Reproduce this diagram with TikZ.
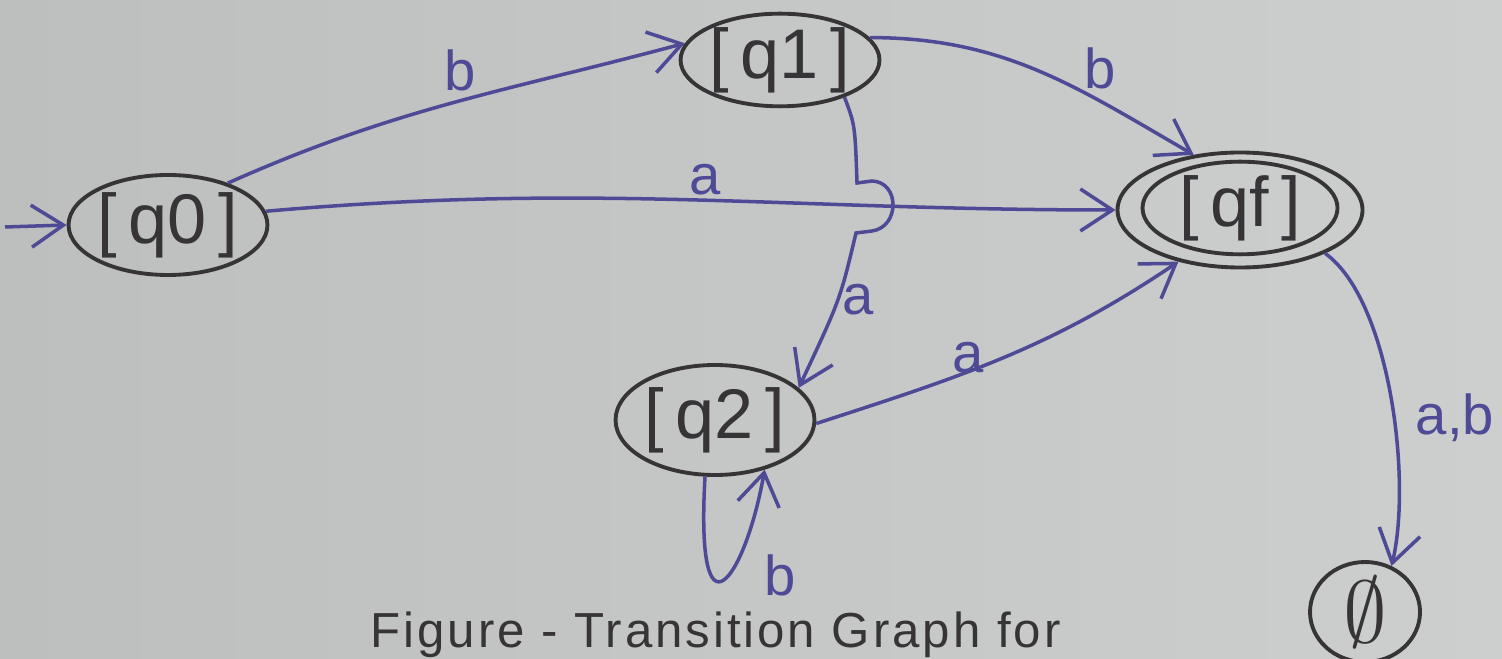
\documentclass[tikz,border=0pt]{standalone}
\usepackage{fontspec}
\setmainfont{Liberation Sans}
\usetikzlibrary{shapes.geometric,arrows.meta}
\definecolor{paperL}{RGB}{188,191,190}
\definecolor{paperR}{RGB}{204,207,206}
\definecolor{stateink}{RGB}{55,52,55}
\definecolor{edgeink}{RGB}{78,74,150}
\tikzset{
  st/.style={ellipse, draw=stateink, line width=1.1pt, inner sep=0pt, text=stateink,
             font=\fontsize{20}{22}\selectfont},
  e/.style={draw=edgeink, line width=1pt, -{Straight Barb[length=3.2mm,width=4.2mm]}},
  lbl/.style={text=edgeink, font=\fontsize{16}{18}\selectfont, inner sep=0pt},
}
\begin{document}
\begin{tikzpicture}
\useasboundingbox (0,0) rectangle (15.02,-6.59);
\clip (0,0) rectangle (15.02,-6.59);
\shade[left color=paperL, right color=paperR] (0,0) rectangle (15.02,-6.59);

% states
\node[st, minimum width=1.70cm, minimum height=1.00cm] (q0) at (1.68,-2.25) {[\,q0\,]};
\node[st, minimum width=1.95cm, minimum height=0.85cm] (q1) at (7.80,-0.60) {[\,q1\,]};
\node[st, minimum width=2.45cm, minimum height=1.15cm] (qf) at (12.40,-2.10) {};
\node[st, minimum width=1.95cm, minimum height=0.85cm] (qfin) at (12.40,-2.08) {[\,qf\,]};
\node[st, minimum width=1.95cm, minimum height=1.10cm] (q2) at (7.15,-4.20) {[\,q2\,]};
\node[st, minimum width=1.10cm, minimum height=1.00cm, font=\fontsize{26}{28}\selectfont] (phi) at (13.65,-6.12) {$\emptyset$};

% start arrow
\coordinate (s) at (0.05,-2.27);
\draw[e] (s) -- (q0.west);

% q0 -> q1 : b
\draw[e] (q0.35) to[out=24,in=195] (q1.170);
\node[lbl] (lb1) at (4.60,-0.70) {b};

% q0 -> qf : a
\draw[e] (q0.8) to[out=5,in=180] (qf.west);
\node[lbl] (la1) at (7.05,-1.80) {a};

% q1 -> qf : b
\draw[e] (q1.14) to[out=0,in=150] (qf.130);
\node[lbl] (lb2) at (11.00,-0.68) {b};

% q1 -> q2 : a  (hops over q0 -> qf)
\draw[e] (q1.-30) .. controls (8.55,-1.25) .. (8.57,-1.83) -- (8.72,-1.81)
  .. controls (9.00,-1.82) and (9.00,-2.27) .. (8.72,-2.31) -- (8.56,-2.33)
  .. controls (8.40,-3.00) .. (q2.21);
\node[lbl] (la2) at (8.58,-3.00) {a};

% q2 -> qf : a
\draw[e] (q2.-2) to[out=18,in=214] (qf.220);
\node[lbl] (la3) at (9.68,-3.58) {a};

% q2 self loop : b
\draw[e] (q2.-100) .. controls (6.95,-6.5) and (7.45,-5.8) .. (q2.-45);
\node[lbl] (lb3) at (7.80,-5.75) {b};

% qf -> phi : a,b
\draw[e] (qf.-27) .. controls (13.90,-3.00) and (14.12,-4.80) .. (phi.60);
\node[lbl] (lab) at (14.55,-4.18) {a,b};

% caption (at the bottom edge)
\node[anchor=base west, text=stateink, font=\fontsize{14}{16}\selectfont\addfontfeature{LetterSpace=6}, inner sep=0pt]
  (cap) at (3.70,-6.47) {Figure - Transition Graph for};
\end{tikzpicture}
\end{document}
